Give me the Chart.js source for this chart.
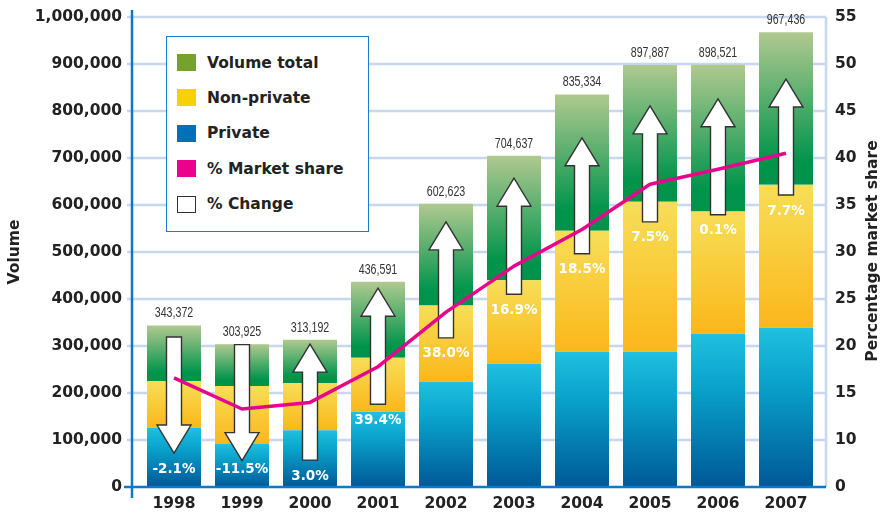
<!DOCTYPE html>
<html>
<head>
<meta charset="utf-8">
<script src="https://cdn.jsdelivr.net/npm/chart.js@4.4.1/dist/chart.umd.min.js"></script>
<style>
    body { margin: 0; background: #fff; }
    #wrap { position: relative; width: 884px; height: 514px; }
    #legend {
        position: absolute; left: 166px; top: 36px; width: 201px; height: 194px;
        border: 1.5px solid #1b7dcb; background: #fff;
        font: bold 15.5px "DejaVu Sans", Verdana, sans-serif; color: #222;
    }
    .item { position: absolute; left: 9.5px; height: 18px; display: flex; align-items: center; white-space: nowrap; }
    .sw { width: 19px; height: 17px; margin-right: 11.5px; box-sizing: border-box; }
</style>
</head>
<body>
<div id="wrap">
    <canvas id="volumeChart" width="884" height="514"></canvas>
    <div id="legend"></div>
</div>
<script>
const years = ["1998", "1999", "2000", "2001", "2002", "2003", "2004", "2005", "2006", "2007"];
const totalVolume = [343372, 303925, 313192, 436591, 602623, 704637, 835334, 897887, 898521, 967436];
const privateVolume = [126000, 91500, 121000, 160000, 224000, 262000, 288000, 288000, 326000, 339000];
const nonPrivateVolume = [99000, 123500, 100000, 115000, 162000, 178000, 257000, 319000, 260000, 304000];
const marketShare = [16.6, 13.3, 14.0, 17.8, 23.6, 28.5, 32.4, 37.2, 38.8, 40.5];
const pctChange = [-2.1, -11.5, 3.0, 39.4, 38.0, 16.9, 18.5, 7.5, 0.1, 7.7];
// upper end of each % change arrow, in volume units
const arrowTop = [319000, 303000, 304000, 423000, 564000, 657000, 743000, 811000, 826000, 868000];

const restVolume = totalVolume.map((t, i) => t - privateVolume[i] - nonPrivateVolume[i]);

const FONT = '"DejaVu Sans", Verdana, sans-serif';
Chart.defaults.font.family = FONT;
Chart.defaults.color = "#222";

const stacks = [privateVolume, nonPrivateVolume, restVolume];

function segmentGradient(stops) {
    return ctx => {
        const chart = ctx.chart;
        if (!chart.chartArea || ctx.type !== "data") return stops[0][1];
        const y = chart.scales.y;
        const i = ctx.dataIndex;
        let base = 0;
        for (let d = 0; d < ctx.datasetIndex; d++) base += stacks[d][i];
        const top = base + stacks[ctx.datasetIndex][i];
        const g = chart.ctx.createLinearGradient(0, y.getPixelForValue(top), 0, y.getPixelForValue(base));
        stops.forEach(([p, c]) => g.addColorStop(p, c));
        return g;
    };
}

const decor = {
    id: "decor",
    beforeDatasetsDraw(chart) {
        const { ctx, chartArea: a, scales: { y } } = chart;
        ctx.save();
        ctx.strokeStyle = "#c7d7ed";
        ctx.lineWidth = 2.5;
        y.ticks.forEach(t => {
            if (t.value === 0) return;
            const py = Math.round(y.getPixelForValue(t.value));
            ctx.beginPath();
            ctx.moveTo(a.left - 13, py);
            ctx.lineTo(a.right + 6, py);
            ctx.stroke();
        });
        ctx.beginPath();
        ctx.moveTo(a.right + 6, a.top);
        ctx.lineTo(a.right + 6, a.bottom);
        ctx.stroke();
        ctx.restore();
    },
    beforeDatasetDraw(chart, args) {
        if (args.meta.type !== "line") return;
        const { ctx, chartArea: a, scales: { y } } = chart;
        ctx.save();
        ctx.strokeStyle = "#0c78c8";
        ctx.lineWidth = 2.5;
        ctx.beginPath();
        ctx.moveTo(a.left - 8, a.top - 7);
        ctx.lineTo(a.left - 8, a.bottom + 11);
        ctx.moveTo(a.left - 16, a.bottom);
        ctx.lineTo(a.right + 6, a.bottom);
        ctx.stroke();

        // % change arrows
        const bars = chart.getDatasetMeta(2).data;
        ctx.fillStyle = "#fff";
        ctx.strokeStyle = "#333";
        ctx.lineWidth = 1.4;
        ctx.lineJoin = "miter";
        pctChange.forEach((v, i) => {
            const x = bars[i].x;
            const t = y.getPixelForValue(arrowTop[i]);
            const b = t + 116;
            const sw = 7.5, hw = 17, hl = 28;
            ctx.beginPath();
            if (v >= 0) {
                ctx.moveTo(x, t);
                ctx.lineTo(x + hw, t + hl);
                ctx.lineTo(x + sw, t + hl);
                ctx.lineTo(x + sw, b);
                ctx.lineTo(x - sw, b);
                ctx.lineTo(x - sw, t + hl);
                ctx.lineTo(x - hw, t + hl);
            } else {
                ctx.moveTo(x - sw, t);
                ctx.lineTo(x + sw, t);
                ctx.lineTo(x + sw, b - hl);
                ctx.lineTo(x + hw, b - hl);
                ctx.lineTo(x, b);
                ctx.lineTo(x - hw, b - hl);
                ctx.lineTo(x - sw, b - hl);
            }
            ctx.closePath();
            ctx.fill();
            ctx.stroke();
        });
        ctx.restore();
    },
    afterDatasetsDraw(chart) {
        const { ctx, scales: { y } } = chart;
        const bars = chart.getDatasetMeta(2).data;
        ctx.save();
        ctx.textAlign = "center";
        ctx.textBaseline = "middle";

        // total labels, narrow face
        ctx.font = '14px "Liberation Sans", Arial, sans-serif';
        ctx.fillStyle = "#333";
        totalVolume.forEach((v, i) => {
            ctx.save();
            ctx.translate(bars[i].x, y.getPixelForValue(v) - 12);
            ctx.scale(0.76, 1);
            ctx.fillText(v.toLocaleString("en-US"), 0, 0);
            ctx.restore();
        });

        ctx.font = "bold 13.5px " + FONT;
        ctx.fillStyle = "#fff";
        pctChange.forEach((v, i) => {
            const t = y.getPixelForValue(arrowTop[i]);
            const py = v >= 0 ? t + 116 + 16 : y.getPixelForValue(0) - 18;
            ctx.fillText(v.toFixed(1) + "%", bars[i].x, py);
        });

        ctx.font = "bold 15.5px " + FONT;
        ctx.fillStyle = "#222";
        ctx.translate(873, 251);
        ctx.rotate(-Math.PI / 2);
        ctx.fillText("Percentage market share", 0, 0);
        ctx.restore();
    }
};

function fixVertical(width) {
    return s => {
        s.width = width;
        s.paddingTop = 0;
        s.paddingBottom = 0;
    };
}

const chart = new Chart(document.getElementById("volumeChart"), {
    type: "bar",
    data: {
        labels: years,
        datasets: [
            {
                label: "Private",
                data: privateVolume,
                backgroundColor: segmentGradient([[0, "#1fc0e0"], [0.35, "#09a2cb"], [1, "#005897"]]),
                stack: "v", order: 1
            },
            {
                label: "Non-private",
                data: nonPrivateVolume,
                backgroundColor: segmentGradient([[0, "#f7de58"], [1, "#fbb71a"]]),
                stack: "v", order: 1
            },
            {
                label: "Volume total",
                data: restVolume,
                backgroundColor: segmentGradient([[0, "#b0c990"], [0.85, "#00944b"], [1, "#00924a"]]),
                stack: "v", order: 1
            },
            {
                type: "line",
                label: "% Market share",
                data: marketShare,
                yAxisID: "y2",
                borderColor: "#e6068c",
                borderWidth: 3.5,
                borderJoinStyle: "round",
                pointRadius: 0,
                tension: 0,
                order: 0
            }
        ]
    },
    options: {
        responsive: false,
        animation: false,
        layout: { padding: { top: 17 } },
        datasets: { bar: { categoryPercentage: 1, barPercentage: 54 / 68 } },
        scales: {
            x: {
                stacked: true,
                grid: { display: false, drawTicks: false },
                border: { display: false },
                ticks: { font: { size: 15.5, weight: "bold" }, padding: 8, color: "#222" },
                afterFit: s => { s.height = 27; s.paddingLeft = 0; s.paddingRight = 0; }
            },
            y: {
                stacked: true,
                min: 0,
                max: 1000000,
                grid: { display: false, drawTicks: false },
                border: { display: false },
                ticks: {
                    stepSize: 100000,
                    padding: 18,
                    font: { size: 15.5, weight: "bold" },
                    color: "#222",
                    callback: v => v.toLocaleString("en-US")
                },
                title: {
                    display: true,
                    text: "Volume",
                    font: { size: 15.5, weight: "bold" },
                    color: "#222",
                    padding: { top: 6, bottom: 0 }
                },
                afterFit: fixVertical(140)
            },
            y2: {
                position: "right",
                min: 5,
                max: 55,
                grid: { display: false, drawTicks: false },
                border: { display: false },
                ticks: {
                    stepSize: 5,
                    padding: 15,
                    font: { size: 15.5, weight: "bold" },
                    color: "#222",
                    callback: v => (v === 5 ? "0" : v)
                },
                afterFit: fixVertical(64)
            }
        },
        plugins: {
            legend: { display: false },
            tooltip: { enabled: false }
        }
    },
    plugins: [decor]
});

// legend box
const legendItems = [
    ["Volume total", "#76a12e"],
    ["Non-private", "#f5d200"],
    ["Private", "#0070b8"],
    ["% Market share", "#ec008c"],
    ["% Change", null]
];
const legend = document.getElementById("legend");
legendItems.forEach(([text, color], k) => {
    const item = document.createElement("div");
    item.className = "item";
    item.style.top = (16.5 + 35.4 * k) + "px";
    const sw = document.createElement("span");
    sw.className = "sw";
    if (color) sw.style.background = color;
    else { sw.style.background = "#fff"; sw.style.border = "1.5px solid #333"; }
    item.appendChild(sw);
    item.appendChild(document.createTextNode(text));
    legend.appendChild(item);
});
</script>
</body>
</html>
